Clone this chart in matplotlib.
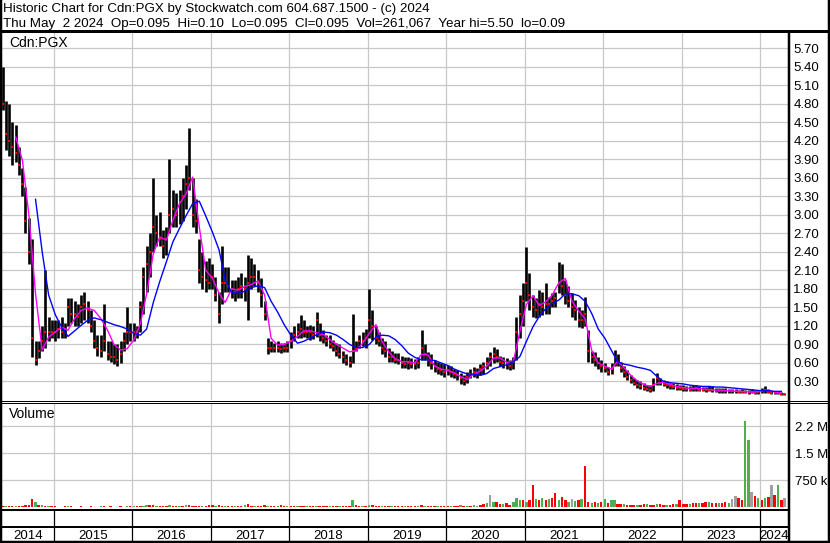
import numpy as np
import pandas as pd
import matplotlib
matplotlib.use("Agg")
import matplotlib.pyplot as plt
from matplotlib.lines import Line2D

plt.rcParams["font.family"] = ["Liberation Sans", "DejaVu Sans"]

# semi-monthly bars, May 2014 .. Apr 2024
price_hi = [
    5.40, 4.85, 4.80, 4.50, 4.45, 4.10, 3.75, 3.45, 2.95, 2.60, 0.95, 0.95, 1.20, 2.10, 1.35, 1.30,
    1.30, 1.30, 1.35, 1.25, 1.65, 1.65, 1.60, 1.55, 1.70, 1.75, 1.60, 1.45, 1.30, 1.05, 1.05, 1.55, 0.95, 0.95, 0.90, 0.90, 0.95, 1.10, 1.50, 1.25,
    1.25, 1.20, 1.60, 2.15, 2.50, 2.70, 3.60, 3.00, 3.05, 2.75, 2.80, 3.90, 3.40, 3.35, 3.40, 3.60, 3.80, 4.40, 3.60, 3.25, 2.60, 2.40, 2.25, 2.30,
    2.20, 2.00, 1.75, 2.50, 2.15, 2.15, 1.95, 1.95, 2.00, 2.05, 2.00, 2.35, 2.30, 2.20, 2.10, 1.98, 1.60, 1.00, 0.95, 0.92, 0.95, 0.92, 0.92, 0.95,
    1.10, 1.20, 1.25, 1.38, 1.30, 1.20, 1.22, 1.20, 1.43, 1.25, 1.13, 1.05, 1.05, 0.97, 0.92, 0.90, 0.80, 0.75, 0.72, 1.40, 0.95, 1.05, 1.10, 1.15,
    1.80, 1.45, 1.20, 1.10, 1.00, 0.95, 0.84, 0.80, 0.76, 0.76, 0.72, 0.70, 0.70, 0.68, 0.66, 0.70, 1.14, 0.90, 0.78, 0.75, 0.65, 0.62, 0.60, 0.58,
    0.56, 0.55, 0.50, 0.48, 0.43, 0.40, 0.45, 0.50, 0.54, 0.52, 0.58, 0.62, 0.70, 0.78, 0.86, 0.82, 0.72, 0.70, 0.68, 0.65, 0.70, 1.35, 1.70, 1.90,
    2.48, 2.05, 1.70, 1.65, 1.78, 1.75, 1.90, 1.67, 1.73, 1.75, 2.24, 2.20, 1.94, 1.85, 1.73, 1.62, 1.50, 1.46, 1.67, 1.13, 0.80, 0.78, 0.70, 0.65,
    0.60, 0.54, 0.60, 0.81, 0.75, 0.62, 0.55, 0.48, 0.40, 0.35, 0.32, 0.30, 0.28, 0.25, 0.25, 0.35, 0.43, 0.35, 0.32, 0.30, 0.28, 0.27, 0.26, 0.25,
    0.24, 0.22, 0.22, 0.24, 0.24, 0.22, 0.21, 0.21, 0.22, 0.22, 0.20, 0.20, 0.19, 0.20, 0.18, 0.18, 0.18, 0.17, 0.18, 0.17, 0.17, 0.18, 0.17, 0.17,
    0.19, 0.22, 0.18, 0.15, 0.14, 0.14, 0.13, 0.12,
]
price_lo = [
    4.70, 4.05, 3.95, 3.80, 3.85, 3.65, 3.30, 2.70, 2.20, 0.70, 0.57, 0.68, 0.80, 0.85, 0.95, 1.00,
    0.95, 1.00, 1.00, 1.00, 1.20, 1.25, 1.20, 1.20, 1.25, 1.30, 1.25, 1.10, 0.85, 0.72, 0.70, 0.80, 0.65, 0.62, 0.58, 0.55, 0.60, 0.80, 0.90, 0.95,
    0.95, 1.00, 1.10, 1.40, 1.75, 2.00, 2.40, 2.50, 2.50, 2.30, 2.35, 2.70, 2.80, 2.80, 2.85, 2.90, 3.10, 3.40, 2.80, 2.70, 1.90, 1.80, 1.75, 1.80,
    1.80, 1.60, 1.25, 1.55, 1.75, 1.75, 1.65, 1.60, 1.65, 1.65, 1.60, 1.30, 1.80, 1.85, 1.75, 1.50, 1.30, 0.75, 0.77, 0.77, 0.78, 0.76, 0.77, 0.78,
    0.85, 0.95, 1.00, 1.00, 1.02, 1.00, 0.97, 0.98, 1.02, 0.95, 0.92, 0.87, 0.85, 0.80, 0.72, 0.68, 0.60, 0.56, 0.54, 0.60, 0.80, 0.85, 0.87, 0.85,
    1.00, 0.97, 0.90, 0.87, 0.75, 0.70, 0.62, 0.62, 0.60, 0.58, 0.52, 0.52, 0.51, 0.52, 0.50, 0.52, 0.65, 0.65, 0.55, 0.51, 0.45, 0.42, 0.40, 0.38,
    0.40, 0.38, 0.35, 0.33, 0.26, 0.24, 0.27, 0.35, 0.38, 0.36, 0.40, 0.42, 0.50, 0.55, 0.60, 0.62, 0.55, 0.52, 0.50, 0.49, 0.50, 0.65, 1.00, 1.20,
    1.60, 1.46, 1.35, 1.32, 1.35, 1.38, 1.40, 1.40, 1.50, 1.50, 1.73, 1.70, 1.55, 1.50, 1.35, 1.30, 1.19, 1.16, 1.20, 0.62, 0.60, 0.55, 0.50, 0.45,
    0.45, 0.40, 0.42, 0.55, 0.55, 0.45, 0.38, 0.32, 0.28, 0.24, 0.20, 0.18, 0.16, 0.15, 0.13, 0.15, 0.25, 0.24, 0.22, 0.20, 0.18, 0.18, 0.16, 0.16,
    0.15, 0.15, 0.14, 0.15, 0.15, 0.14, 0.14, 0.13, 0.14, 0.13, 0.13, 0.12, 0.12, 0.12, 0.12, 0.11, 0.11, 0.11, 0.11, 0.11, 0.10, 0.11, 0.10, 0.10,
    0.11, 0.12, 0.11, 0.10, 0.09, 0.09, 0.08, 0.08,
]
price_close = [
    4.80, 4.30, 4.20, 4.10, 4.00, 3.80, 3.50, 2.90, 2.40, 1.00, 0.65, 0.80, 0.95, 1.10, 1.10, 1.10,
    1.10, 1.15, 1.10, 1.15, 1.50, 1.40, 1.40, 1.35, 1.50, 1.55, 1.45, 1.20, 0.95, 0.85, 0.80, 0.95, 0.75, 0.70, 0.70, 0.65, 0.75, 0.95, 1.10, 1.10,
    1.10, 1.10, 1.50, 2.00, 2.20, 2.40, 2.80, 2.70, 2.60, 2.50, 2.60, 3.00, 3.10, 3.00, 3.20, 3.30, 3.50, 3.60, 3.00, 2.90, 2.10, 2.00, 1.95, 1.90,
    2.00, 1.70, 1.40, 1.90, 1.90, 1.85, 1.80, 1.75, 1.80, 1.85, 1.80, 1.90, 2.00, 2.00, 1.90, 1.70, 1.40, 0.85, 0.85, 0.85, 0.85, 0.82, 0.85, 0.85,
    0.95, 1.05, 1.10, 1.15, 1.10, 1.10, 1.10, 1.05, 1.30, 1.05, 1.00, 0.95, 0.90, 0.88, 0.80, 0.75, 0.70, 0.65, 0.60, 0.80, 0.85, 0.95, 0.95, 1.00,
    1.30, 1.20, 1.00, 0.95, 0.85, 0.80, 0.70, 0.70, 0.65, 0.65, 0.60, 0.58, 0.60, 0.58, 0.58, 0.60, 0.85, 0.75, 0.65, 0.60, 0.55, 0.50, 0.48, 0.45,
    0.48, 0.45, 0.42, 0.40, 0.35, 0.30, 0.38, 0.42, 0.45, 0.44, 0.50, 0.55, 0.60, 0.70, 0.75, 0.70, 0.62, 0.60, 0.58, 0.55, 0.62, 1.10, 1.40, 1.60,
    1.90, 1.70, 1.50, 1.45, 1.55, 1.50, 1.55, 1.55, 1.60, 1.65, 1.90, 1.85, 1.70, 1.60, 1.50, 1.45, 1.30, 1.30, 1.40, 0.80, 0.70, 0.65, 0.60, 0.55,
    0.52, 0.46, 0.50, 0.70, 0.62, 0.52, 0.45, 0.38, 0.32, 0.28, 0.25, 0.22, 0.20, 0.18, 0.17, 0.25, 0.35, 0.28, 0.26, 0.24, 0.22, 0.21, 0.20, 0.19,
    0.18, 0.18, 0.17, 0.18, 0.19, 0.17, 0.16, 0.16, 0.17, 0.16, 0.15, 0.15, 0.15, 0.14, 0.14, 0.14, 0.14, 0.13, 0.13, 0.13, 0.13, 0.13, 0.12, 0.13,
    0.14, 0.16, 0.13, 0.12, 0.11, 0.11, 0.10, 0.10,
]

# moving averages
ma_fast = [
    np.nan, np.nan, 4.26, 3.88, 2.97, 1.72, 0.81, 1.02,
    1.10, 1.18, 1.13, 1.32, 1.45, 1.49, 1.45, 1.32, 1.13, 0.90, 0.81, 0.83,
    0.97, 1.24, 1.72, 2.37, 2.64, 2.59, 2.91, 3.18, 3.34, 3.61, 2.80, 2.10,
    1.97, 1.73, 1.58, 1.80, 1.78, 1.84, 1.87, 1.93, 1.70, 1.00, 0.89, 0.90,
    0.95, 1.03, 1.12, 1.12, 1.09, 1.06, 0.98, 0.90, 0.84, 0.78, 0.80, 0.92,
    1.08, 1.22, 0.95, 0.78, 0.67, 0.62, 0.62, 0.60, 0.74, 0.73, 0.55, 0.50,
    0.48, 0.44, 0.38, 0.33, 0.42, 0.47, 0.55, 0.68, 0.68, 0.61, 0.62, 1.10,
    1.55, 1.69, 1.53, 1.59, 1.70, 1.90, 1.97, 1.60, 1.44, 1.32, 0.80, 0.60,
    0.55, 0.50, 0.63, 0.52, 0.40, 0.31, 0.25, 0.22, 0.27, 0.29, 0.25, 0.22,
    0.20, 0.19, 0.19, 0.18, 0.17, 0.16, 0.16, 0.15, 0.14, 0.14, 0.13, 0.13,
    0.15, 0.16, 0.13, 0.11,
]
ma_slow = [
    np.nan, np.nan, np.nan, np.nan, np.nan, 3.25, 2.40, 1.70,
    1.38, 1.17, 1.03, 1.12, 1.21, 1.29, 1.33, 1.30, 1.26, 1.22, 1.19, 1.15,
    1.08, 1.05, 1.15, 1.58, 1.92, 2.24, 2.56, 2.78, 2.99, 3.18, 3.22, 2.98,
    2.72, 2.43, 1.95, 1.74, 1.73, 1.76, 1.82, 1.85, 1.82, 1.60, 1.42, 1.22,
    1.05, 0.92, 0.95, 1.00, 1.06, 1.10, 1.09, 1.05, 0.98, 0.90, 0.85, 0.85,
    0.90, 1.02, 1.05, 1.04, 0.98, 0.88, 0.76, 0.69, 0.65, 0.65, 0.64, 0.60,
    0.56, 0.50, 0.46, 0.42, 0.42, 0.40, 0.43, 0.51, 0.54, 0.57, 0.62, 0.70,
    0.95, 1.19, 1.35, 1.48, 1.56, 1.62, 1.72, 1.72, 1.69, 1.60, 1.40, 1.15,
    1.00, 0.80, 0.62, 0.58, 0.56, 0.53, 0.51, 0.48, 0.38, 0.30, 0.28, 0.27,
    0.26, 0.24, 0.23, 0.22, 0.22, 0.21, 0.21, 0.20, 0.19, 0.18, 0.17, 0.16,
    0.15, 0.15, 0.14, 0.14,
]

# volume in thousands, colour code r=down g=up n=unchanged
volume_k = [
    30, 20, 20, 15, 20, 25, 30, 40, 60, 220, 130, 50, 40, 30, 20, 20,
    15, 10, 10, 15, 20, 15, 10, 10, 15, 10, 10, 15, 10, 10, 15, 20, 10, 15, 10, 10, 15, 10, 15, 20,
    15, 20, 20, 30, 40, 50, 40, 30, 25, 30, 30, 60, 30, 25, 30, 25, 40, 50, 30, 25, 20, 30, 25, 50,
    60, 30, 40, 30, 25, 25, 30, 25, 30, 35, 40, 80, 35, 25, 25, 30, 40, 30, 25, 20, 30, 40, 35, 30,
    20, 25, 20, 30, 25, 20, 20, 25, 30, 20, 25, 20, 20, 25, 20, 20, 25, 20, 30, 200, 40, 30, 25, 30,
    60, 40, 30, 25, 20, 20, 25, 20, 20, 25, 20, 20, 20, 25, 30, 20, 40, 30, 25, 20, 20, 25, 20, 20,
    20, 25, 30, 20, 40, 35, 20, 25, 40, 30, 60, 80, 120, 330, 150, 140, 90, 80, 100, 60, 150, 250, 200, 200,
    150, 200, 600, 220, 180, 240, 200, 210, 240, 380, 200, 280, 180, 150, 210, 160, 200, 230, 1140, 150, 120, 140, 100, 130,
    230, 120, 190, 190, 90, 80, 70, 60, 60, 50, 50, 60, 70, 80, 60, 50, 80, 70, 60, 50, 60, 70, 80, 190,
    90, 80, 70, 100, 110, 120, 100, 140, 130, 110, 120, 100, 110, 130, 120, 230, 310, 240, 190, 2400, 1870, 430, 310, 250,
    190, 240, 280, 610, 330, 610, 190, 250,
]
volume_dir = (
    "rgrrgrrrrrgrgrgr"
    "rgrrgrrgrrgrrrgrgrrgrrgr"
    "grrggrrgrrrgrrgrgrrrrgrr"
    "rgrrgrrgrrgrrgrrrgrrgrrg"
    "rrgrrgrrgrrrgrrgrrrgrrgr"
    "grrrgrrgrrrgrrrgrgrrrgrr"
    "rgrrgrgrggrrgngrrgrrgggr"
    "grrgrgrgrrgrrgngrgrrgrgr"
    "grggrrgrrrgrrgrrgrrgrrgr"
    "rrgrrgrrgrrgrrgnnrrggnrg"
    "rgrnrgrn"
)

year_labels = ["2014", "2015", "2016", "2017", "2018", "2019", "2020", "2021", "2022", "2023", "2024"]
price_ticks = [0.30, 0.60, 0.90, 1.20, 1.50, 1.80, 2.10, 2.40, 2.70, 3.00,
               3.30, 3.60, 3.90, 4.20, 4.50, 4.80, 5.10, 5.40, 5.70]
vol_ticks = [750e3, 1.5e6, 2.25e6]
vol_tick_labels = ["750 k", "1.5 M", "2.2 M"]

header1 = "Historic Chart for Cdn:PGX by Stockwatch.com 604.687.1500 - (c) 2024"
header2 = ("Thu May  2 2024  Op=0.095  Hi=0.10  Lo=0.095  Cl=0.095  "
           "Vol=261,067  Year hi=5.50  lo=0.09")


def main():
    dates = pd.date_range("2014-05-01", periods=len(price_hi), freq="SMS") + pd.Timedelta(days=8)
    ma_dates = dates[::2]
    x_start, x_end = pd.Timestamp("2014-05-06"), pd.Timestamp("2024-05-10")
    year_starts = [pd.Timestamp(f"{y}-01-01") for y in range(2015, 2025)]

    W, H = 830, 543
    fig = plt.figure(figsize=(W / 100, H / 100), dpi=100)
    fig.patch.set_facecolor("white")

    def box(x0, y0, x1, y1):
        return [x0 / W, 1 - y1 / H, (x1 - x0) / W, (y1 - y0) / H]

    def line(x0, y0, x1, y1, lw_px):
        fig.add_artist(Line2D([x0 / W, x1 / W], [1 - y0 / H, 1 - y1 / H],
                              transform=fig.transFigure, color="black",
                              lw=lw_px * 0.72, solid_capstyle="butt"))

    ax = fig.add_axes(box(2, 32, 788, 400))
    axv = fig.add_axes(box(2, 403, 788, 508), sharex=ax)

    for a in (ax, axv):
        for s in a.spines.values():
            s.set_visible(False)
        a.set_xticks(year_starts)
        a.tick_params(axis="x", length=0, labelbottom=False)
        a.grid(True, color="#c8c8c8", lw=0.9)
        a.set_axisbelow(True)
        a.yaxis.tick_right()

    # price panel
    ax.vlines(dates, price_lo, price_hi, colors="black", lw=1.9, zorder=2)
    ax.plot(dates, price_close, ls="none", marker="s", ms=2.0, mfc="red",
            mec="red", mew=0, zorder=3)
    ax.plot(ma_dates, ma_fast, color="#ff00ff", lw=1.0, zorder=4)
    ax.plot(ma_dates, ma_slow, color="#0000ff", lw=1.0, zorder=4)
    ax.set_xlim(x_start, x_end)
    ax.set_ylim(0, 5.96)
    ax.set_yticks(price_ticks)
    ax.set_yticklabels([f"{v:.2f}" for v in price_ticks])
    ax.tick_params(axis="y", length=0, pad=3.8, labelsize=9.5)

    # volume panel
    cmap = {"r": "#ff0000", "g": "#4cb04c", "n": "#a0a0a0"}
    axv.bar(dates, np.array(volume_k) * 1000, width=11,
            color=[cmap[c] for c in volume_dir], lw=0)
    axv.set_ylim(-30e3, 2.9e6)
    axv.set_yticks(vol_ticks)
    axv.set_yticklabels(vol_tick_labels)
    axv.tick_params(axis="y", length=0, pad=5, labelsize=9.5)

    # year labels centred in the visible slot of each year
    bounds = [x_start] + year_starts + [x_end]
    xt = axv.get_xaxis_transform()
    for i, lab in enumerate(year_labels):
        mid = bounds[i] + (bounds[i + 1] - bounds[i]) / 2
        axv.text(mid, -0.298, lab, transform=xt, ha="center", va="baseline",
                 fontsize=9.5, clip_on=False)
    axv.vlines(year_starts, -0.02, -0.32, transform=xt, colors="black",
               lw=0.9, clip_on=False)

    # header and panel labels
    fig.text(3 / W, 1 - 12.3 / H, header1, fontsize=9.6, va="baseline")
    fig.text(3 / W, 1 - 26.7 / H, header2, fontsize=9.6, va="baseline")
    fig.text(9.3 / W, 1 - 46.7 / H, "Cdn:PGX", fontsize=10, va="baseline")
    fig.text(9.3 / W, 1 - 418.3 / H, "Volume", fontsize=10, va="baseline")

    # frame lines
    line(1, 0, 1, 543, 2.5)
    line(828.8, 0, 828.8, 543, 2.5)
    line(0, 30.5, 830, 30.5, 3)
    line(789, 30.5, 789, 543, 2.5)
    line(0, 400.5, 830, 400.5, 1)
    line(0, 402.5, 830, 402.5, 1)
    line(0, 510, 789, 510, 2)
    line(0, 526.7, 789, 526.7, 2)
    line(0, 541.8, 830, 541.8, 2.5)

    fig.savefig("out.png", dpi=100, facecolor="white")


if __name__ == "__main__":
    main()
